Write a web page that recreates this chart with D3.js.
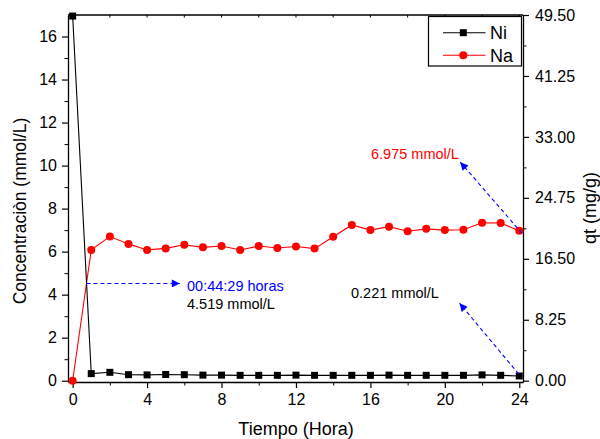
<!DOCTYPE html>
<html>
<head>
<meta charset="utf-8">
<script src="https://cdn.jsdelivr.net/npm/d3@7"></script>
<style>
  body { margin: 0; background: #fff; }
  text { font-family: "Liberation Sans", Arial, sans-serif; }
</style>
</head>
<body>
<svg width="600" height="439"></svg>
<script>
// datos
const horas = d3.range(0, 25);
const ni = [16.95, 0.33, 0.39, 0.28, 0.27, 0.29, 0.28, 0.26, 0.26, 0.25, 0.25, 0.25, 0.26,
            0.25, 0.25, 0.25, 0.25, 0.26, 0.25, 0.25, 0.25, 0.25, 0.27, 0.25, 0.221];
const na = [0, 6.08, 6.70, 6.36, 6.08, 6.15, 6.32, 6.20, 6.26, 6.08, 6.26, 6.17, 6.24,
            6.14, 6.69, 7.24, 7.00, 7.16, 6.95, 7.06, 7.00, 7.02, 7.34, 7.33, 6.975];
const xTicks = [0, 4, 8, 12, 16, 20, 24];
const yTicks = [0, 2, 4, 6, 8, 10, 12, 14, 16];
const qtTicks = [0, 8.25, 16.5, 24.75, 33, 41.25, 49.5];

const svg = d3.select('svg');
const mLeft = 68, mRight = 523, mTop = 15, mBottom = 382;

const x = d3.scaleLinear().domain([-0.25, 24.2]).range([mLeft, mRight]);
const y = d3.scaleLinear().domain([-0.06, 17]).range([mBottom, mTop]);
const y2 = d3.scaleLinear().domain([y.domain()[0] * 49.5 / 17, 49.5]).range([mBottom, mTop]);

// marco superior
svg.append('line')
    .attr('x1', mLeft).attr('x2', mRight).attr('y1', mTop).attr('y2', mTop)
    .attr('stroke', '#000').attr('stroke-width', 1.3);
svg.append('g')
    .selectAll('line')
    .data(d3.range(0, 25, 2))
    .enter().append('line')
    .attr('x1', (d) => x(d)).attr('x2', (d) => x(d))
    .attr('y1', mTop).attr('y2', mTop + 2.5)
    .attr('stroke', '#000');

function styleAxis(g) {
    g.select('.domain').attr('stroke-width', 1.3);
    g.selectAll('.tick line').attr('stroke-width', 1.2);
    g.selectAll('text').attr('font-size', 16).attr('fill', '#000')
        .style('font-family', '"Liberation Sans", Arial, sans-serif');
}

// eje x
svg.append('g')
    .attr('transform', `translate(0,${mBottom})`)
    .call(d3.axisBottom(x).tickValues(d3.range(2, 24, 4)).tickSize(3.5).tickFormat(''))
    .call((g) => g.select('.domain').remove());
svg.append('g')
    .attr('transform', `translate(0,${mBottom})`)
    .call(d3.axisBottom(x).tickValues(xTicks).tickSize(6).tickPadding(6).tickSizeOuter(0))
    .call(styleAxis);

// eje y izquierdo
svg.append('g')
    .attr('transform', `translate(${mLeft},0)`)
    .call(d3.axisLeft(y).tickValues(d3.range(1, 17, 2)).tickSize(3.5).tickFormat(''))
    .call((g) => g.select('.domain').remove());
svg.append('g')
    .attr('transform', `translate(${mLeft},0)`)
    .call(d3.axisLeft(y).tickValues(yTicks).tickSize(6).tickPadding(5).tickSizeOuter(0))
    .call(styleAxis);

// eje y derecho
svg.append('g')
    .attr('transform', `translate(${mRight},0)`)
    .call(d3.axisRight(y2).tickValues(qtTicks.slice(0, -1).map((d) => d + 4.125)).tickSize(3.5).tickFormat(''))
    .call((g) => g.select('.domain').remove());
svg.append('g')
    .attr('transform', `translate(${mRight},0)`)
    .call(d3.axisRight(y2).tickValues(qtTicks).tickSize(6).tickPadding(6).tickSizeOuter(0)
        .tickFormat(d3.format('.2f')))
    .call(styleAxis);

// títulos
svg.append('text')
    .attr('transform', 'translate(25.5,211) rotate(-90)')
    .attr('text-anchor', 'middle').attr('font-size', 17.5)
    .text('Concentraciòn (mmol/L)');
svg.append('text')
    .attr('transform', 'translate(595.5,208) rotate(-90)')
    .attr('text-anchor', 'middle').attr('font-size', 18)
    .text('qt (mg/g)');
svg.append('text')
    .attr('x', 296).attr('y', 435)
    .attr('text-anchor', 'middle').attr('font-size', 18)
    .text('Tiempo (Hora)');

// series
const linea = d3.line().x((d, i) => x(horas[i])).y((d) => y(d));
svg.append('path').datum(na)
    .attr('fill', 'none').attr('stroke', '#ff0000').attr('stroke-width', 1.1)
    .attr('d', linea);
svg.append('path').datum(ni)
    .attr('fill', 'none').attr('stroke', '#000').attr('stroke-width', 1.1)
    .attr('d', linea);

svg.append('g').selectAll('rect')
    .data(ni).enter().append('rect')
    .attr('x', (d, i) => x(horas[i]) - 3.5)
    .attr('y', (d) => y(d) - 3.5)
    .attr('width', 7).attr('height', 7)
    .attr('fill', '#000');
svg.append('g').selectAll('circle')
    .data(na).enter().append('circle')
    .attr('cx', (d, i) => x(horas[i]))
    .attr('cy', (d) => y(d))
    .attr('r', 4)
    .attr('fill', '#ff0000');

// flechas
svg.append('defs').append('marker')
    .attr('id', 'flecha')
    .attr('markerUnits', 'userSpaceOnUse')
    .attr('viewBox', '0 0 10 10')
    .attr('refX', 10).attr('refY', 5)
    .attr('markerWidth', 10).attr('markerHeight', 8)
    .attr('orient', 'auto')
    .append('path')
    .attr('d', 'M0,0 L10,5 L0,10 Z')
    .attr('fill', '#0000ff');

const flechas = [
    [[0.741, 4.519], [5.76, 4.519]],
    [[24.15, 6.85], [20.83, 10.16]],
    [[23.97, 0.31], [20.79, 3.6]],
];
svg.append('g').selectAll('line')
    .data(flechas).enter().append('line')
    .attr('x1', (d) => x(d[0][0])).attr('y1', (d) => y(d[0][1]))
    .attr('x2', (d) => x(d[1][0])).attr('y2', (d) => y(d[1][1]))
    .attr('stroke', '#0000ff').attr('stroke-width', 1.1)
    .attr('stroke-dasharray', '4,3')
    .attr('marker-end', 'url(#flecha)');

// anotaciones
const notas = [
    { t: '00:44:29 horas', px: 187, py: 291, c: '#0000ff' },
    { t: '4.519 mmol/L', px: 187, py: 309, c: '#000' },
    { t: '0.221 mmol/L', px: 351, py: 298, c: '#000' },
    { t: '6.975 mmol/L', px: 371, py: 159, c: '#ff0000' },
];
svg.append('g').selectAll('text')
    .data(notas).enter().append('text')
    .attr('x', (d) => d.px).attr('y', (d) => d.py)
    .attr('font-size', 14.5)
    .attr('fill', (d) => d.c)
    .text((d) => d.t);

// leyenda
const leg = svg.append('g');
leg.append('rect')
    .attr('x', 428.5).attr('y', 16.5).attr('width', 93).attr('height', 49.5)
    .attr('fill', '#fff').attr('stroke', '#000').attr('stroke-width', 1.2);
const items = [
    { n: 'Ni', c: '#000', y: 32.7, m: 'rect' },
    { n: 'Na', c: '#ff0000', y: 55.3, m: 'circle' },
];
items.forEach((it) => {
    leg.append('line')
        .attr('x1', 443).attr('x2', 485.5).attr('y1', it.y).attr('y2', it.y)
        .attr('stroke', it.c).attr('stroke-width', 1.1);
    if (it.m === 'rect') {
        leg.append('rect').attr('x', 463.3 - 3.5).attr('y', it.y - 3.5)
            .attr('width', 7).attr('height', 7).attr('fill', it.c);
    } else {
        leg.append('circle').attr('cx', 463.3).attr('cy', it.y).attr('r', 4).attr('fill', it.c);
    }
    leg.append('text')
        .attr('x', 490).attr('y', it.y + 6.5)
        .attr('font-size', 18)
        .text(it.n);
});
</script>
</body>
</html>
